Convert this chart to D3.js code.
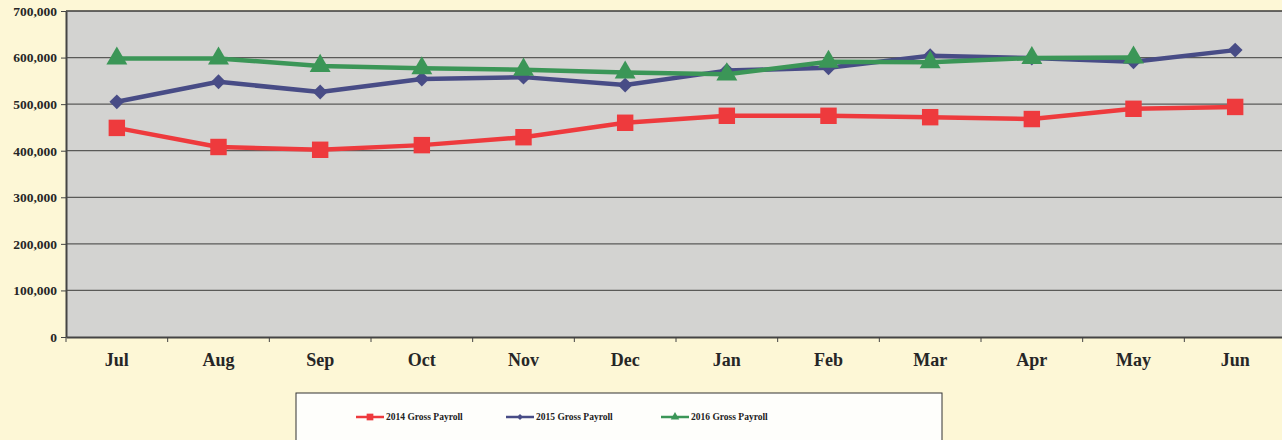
<!DOCTYPE html>
<html>
<head>
<meta charset="utf-8">
<script src="https://cdn.jsdelivr.net/npm/d3@7"></script>
<style>
  body { margin: 0; background: #fdf7d6; overflow: hidden; }
  svg { display: block; }
  .axis text { font-family: 'Liberation Serif', 'Times New Roman', serif; font-weight: bold; fill: #262626; }
  .axis path, .axis line { stroke: #444; }
</style>
</head>
<body>
<svg width="1282" height="440"></svg>
<script>
const months = ['Jul', 'Aug', 'Sep', 'Oct', 'Nov', 'Dec', 'Jan', 'Feb', 'Mar', 'Apr', 'May', 'Jun'];
const payroll2014 = [449000, 408000, 402000, 412000, 429000, 460000, 475000, 475000, 472000, 468000, 490000, 494000];
const payroll2015 = [505000, 548000, 526000, 554000, 558000, 541000, 572000, 578000, 604000, 599000, 591000, 616000];
const payroll2016 = [598000, 598000, 582000, 577000, 574000, 568000, 564000, 591000, 590000, 599000, 600000, null];
const yTicks = [0, 100000, 200000, 300000, 400000, 500000, 600000, 700000];
const seriesNames = ['2014 Gross Payroll', '2015 Gross Payroll', '2016 Gross Payroll'];

let svg = d3.select('svg');

const margin = {top: 11, right: -4, bottom: 103, left: 66},
    width = +svg.attr('width') - margin.left - margin.right,
    height = +svg.attr('height') - margin.top - margin.bottom;

let g = svg.append('g').attr('transform', `translate(${margin.left}, ${margin.top})`);

let x = d3.scaleBand().domain(months).range([0, width]),
    y = d3.scaleLinear().domain([0, 700000]).range([height, 0]);

// diamonds in the original are squares turned 45 degrees
const diamond = {
  draw(ctx, size) {
    const r = Math.sqrt(size / 2);
    ctx.moveTo(0, -r); ctx.lineTo(r, 0); ctx.lineTo(0, r); ctx.lineTo(-r, 0); ctx.closePath();
  }
};

const series = [
  {name: seriesNames[0], values: payroll2014, color: '#ee3a3d', symbol: d3.symbolSquare, size: 270},
  {name: seriesNames[1], values: payroll2015, color: '#484c86', symbol: diamond, size: 110},
  {name: seriesNames[2], values: payroll2016, color: '#3b9657', symbol: d3.symbolTriangle, size: 190}
];

// plot area
g.append('rect')
    .attr('width', width)
    .attr('height', height)
    .attr('fill', '#d3d3d1');

// gridlines
g.append('g')
  .selectAll('line')
  .data(yTicks.slice(1, -1))
  .enter().append('line')
    .attr('x1', 0)
    .attr('x2', width)
    .attr('y1', (d) => y(d))
    .attr('y2', (d) => y(d))
    .attr('stroke', '#5a5a58')
    .attr('stroke-width', 1.2);

// top border
g.append('line')
    .attr('x1', 0).attr('x2', width)
    .attr('y1', 0).attr('y2', 0)
    .attr('stroke', '#3a3a38').attr('stroke-width', 1.5);

g.append('g')
    .attr('class', 'axis axis--y')
    .call(d3.axisLeft(y).tickValues(yTicks).tickFormat(d3.format(',')).tickSize(5).tickSizeOuter(0))
    .call((a) => a.selectAll('text').attr('font-size', 13.5).attr('dx', -1))
    .call((a) => a.select('.domain').attr('stroke-width', 2));

let xa = g.append('g')
    .attr('class', 'axis axis--x')
    .attr('transform', `translate(0, ${height})`)
    .call(d3.axisBottom(x).tickSize(0).tickPadding(16));
xa.selectAll('text').attr('font-size', 18);
xa.select('.domain').attr('stroke-width', 2);
// tick marks at the band boundaries
xa.selectAll('.bound')
  .data(months)
  .enter().append('line')
    .attr('x1', (d) => x(d))
    .attr('x2', (d) => x(d))
    .attr('y1', 0).attr('y2', 5)
    .attr('stroke', '#444');

const line = d3.line()
    .defined((d) => d != null)
    .x((d, i) => x(months[i]) + x.bandwidth() / 2)
    .y((d) => y(d));

series.forEach((s) => {
  let sg = g.append('g').attr('class', 'series');
  sg.append('path')
    .attr('d', line(s.values))
    .attr('fill', 'none')
    .attr('stroke', s.color)
    .attr('stroke-width', 4.5)
    .attr('stroke-linejoin', 'round');
  sg.selectAll('.mark')
    .data(s.values.map((v, i) => ({v: v, m: months[i]})).filter((d) => d.v != null))
    .enter().append('path')
      .attr('transform', (d) => `translate(${x(d.m) + x.bandwidth() / 2}, ${y(d.v)})`)
      .attr('d', d3.symbol().type(s.symbol).size(s.size))
      .attr('fill', s.color);
});

// legend
let lg = svg.append('g').attr('transform', 'translate(296, 393)');
lg.append('rect')
    .attr('width', 646)
    .attr('height', 60)
    .attr('fill', '#fefefb')
    .attr('stroke', '#333')
    .attr('stroke-width', 1);

const legendX = [60, 210, 365];
series.forEach((s, i) => {
  let li = lg.append('g').attr('transform', `translate(${legendX[i]}, 24)`);
  li.append('line')
    .attr('x1', 0).attr('x2', 28)
    .attr('stroke', s.color).attr('stroke-width', 2.5);
  li.append('path')
    .attr('transform', 'translate(14, 0)')
    .attr('d', d3.symbol().type(s.symbol).size(s.size / 6))
    .attr('fill', s.color);
  li.append('text')
    .attr('x', 30)
    .attr('dy', '0.35em')
    .attr('font-family', "'Liberation Serif', serif")
    .attr('font-weight', 'bold')
    .attr('font-size', 9.5)
    .attr('fill', '#222')
    .text(s.name);
});
</script>
</body>
</html>
